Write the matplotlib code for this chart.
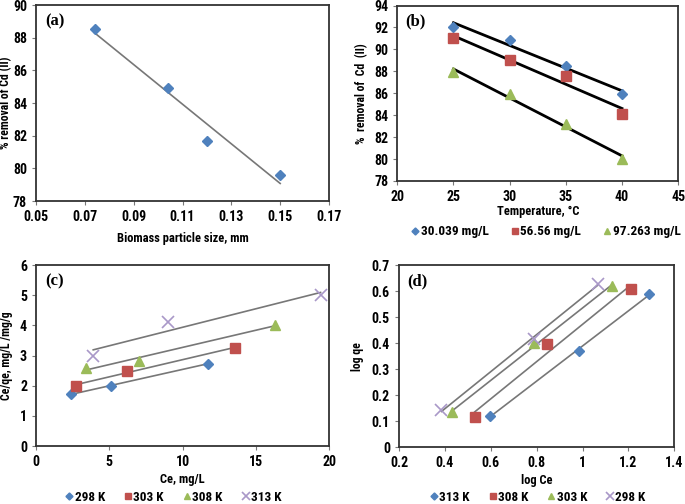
import numpy as np
import matplotlib
matplotlib.use("Agg")
import matplotlib.pyplot as plt
from matplotlib.ticker import FuncFormatter

plt.rcParams['font.family'] = ['Liberation Sans Narrow', 'Roboto Condensed',
                               'DejaVu Sans Condensed', 'Liberation Sans', 'DejaVu Sans']
plt.rcParams['font.weight'] = 'bold'

# (a) particle size
size_a = [0.074, 0.104, 0.12, 0.15]
rem_a = [88.55, 84.9, 81.7, 79.6]

# (b) temperature
temp_b = [25, 30, 35, 40]
conc_b = ['30.039 mg/L', '56.56 mg/L', '97.263 mg/L']
rem_b = [[92.0, 90.9, 88.5, 85.9],
         [91.0, 89.0, 87.6, 84.1],
         [87.9, 85.9, 83.2, 80.0]]

# (c) Langmuir
lab_c = ['298 K', '303 K', '308 K', '313 K']
ce_c = [[2.4, 5.1, 11.7],
        [2.7, 6.2, 13.6],
        [3.4, 7.0, 16.3],
        [3.9, 9.0, 19.4]]
ceqe_c = [[1.72, 2.0, 2.73],
          [2.0, 2.48, 3.26],
          [2.6, 2.82, 4.02],
          [3.0, 4.1, 5.0]]

# (d) Freundlich
lab_d = ['313 K', '308 K', '303 K', '298 K']
logce_d = [[0.595, 0.985, 1.29],
           [0.53, 0.845, 1.21],
           [0.432, 0.79, 1.13],
           [0.385, 0.79, 1.065]]
logqe_d = [[0.12, 0.37, 0.59],
           [0.118, 0.395, 0.607],
           [0.135, 0.40, 0.62],
           [0.142, 0.415, 0.628]]

colors = ['#4F81BD', '#C0504D', '#9BBB59', '#A998C8']
markers = ['D', 's', '^', 'x']
msizes = [5.5, 7, 6.5, 8]

fig = plt.figure(figsize=(6.85, 5.04), dpi=100)
ax_a = fig.add_axes([0.0526, 0.601, 0.4277, 0.389])
ax_b = fig.add_axes([0.580, 0.641, 0.410, 0.348])
ax_c = fig.add_axes([0.0526, 0.115, 0.4282, 0.359])
ax_d = fig.add_axes([0.5825, 0.1125, 0.402, 0.3617])

fmt = FuncFormatter(lambda v, p: '%g' % round(v, 3))


def style(ax, label, ylab_x):
    for s in ax.spines.values():
        s.set_color('#333333')
        s.set_linewidth(1.3)
    ax.tick_params(direction='out', length=3, width=0.8, color='#777777',
                   labelsize=10, pad=3.5)
    for t in ax.get_xticklabels() + ax.get_yticklabels():
        t.set_fontweight('bold')
    ax.xaxis.set_major_formatter(fmt)
    ax.yaxis.set_major_formatter(fmt)
    ax.yaxis.set_label_coords(ylab_x, 0.5)
    ax.text(0.03, 0.955, label, transform=ax.transAxes, ha='left', va='top',
            fontsize=12, fontweight='bold', family='Liberation Serif')


def trend(ax, x, y, color, lw):
    k, b = np.polyfit(x, y, 1)
    xs = np.array([min(x), max(x)])
    ax.plot(xs, k * xs + b, color=color, lw=lw, zorder=2)


leg_kw = dict(loc='center', bbox_transform=fig.transFigure, frameon=False,
              markerscale=0.65, handlelength=0.6, handletextpad=0.1,
              prop={'size': 9.5, 'weight': 'bold'}, borderaxespad=0, borderpad=0)

# (a)
trend(ax_a, size_a, rem_a, '#777777', 1.2)
ax_a.plot(size_a, rem_a, ls='none', marker='D', ms=5.5, color=colors[0], zorder=3)
ax_a.set_xlim(0.05, 0.17)
ax_a.set_xticks(np.arange(0.05, 0.171, 0.02))
ax_a.set_ylim(78, 90)
ax_a.set_yticks(np.arange(78, 91, 2))
ax_a.set_xlabel('Biomass particle size, mm', fontsize=9, fontweight='bold', labelpad=6)
ax_a.set_ylabel('% removal of Cd (II)', fontsize=8.5, fontweight='bold')
style(ax_a, '(a)', -0.08)

# (b)
for i in range(3):
    trend(ax_b, temp_b, rem_b[i], 'black', 2)
    ax_b.plot(temp_b, rem_b[i], ls='none', marker=markers[i], ms=msizes[i],
              color=colors[i], zorder=3, label=conc_b[i])
ax_b.set_xlim(20, 45)
ax_b.set_xticks(range(20, 46, 5))
ax_b.set_ylim(78, 94)
ax_b.set_yticks(range(78, 95, 2))
ax_b.set_xlabel('Temperature, \u00b0C', fontsize=9, fontweight='bold', labelpad=1)
ax_b.set_ylabel('%  removal of  Cd  (II)', fontsize=8.5, fontweight='bold')
style(ax_b, '(b)', -0.104)
ax_b.legend(bbox_to_anchor=(0.797, 0.540), ncol=3, columnspacing=1.7, **leg_kw)

# (c)
for i in range(4):
    trend(ax_c, ce_c[i], ceqe_c[i], '#777777', 1.2)
    ax_c.plot(ce_c[i], ceqe_c[i], ls='none', marker=markers[i], ms=msizes[i],
              mew=1.2 if markers[i] == 'x' else 1, color=colors[i], zorder=3,
              label=lab_c[i])
ax_c.set_xlim(0, 20)
ax_c.set_xticks(range(0, 21, 5))
ax_c.set_ylim(0, 6)
ax_c.set_yticks(range(0, 7))
ax_c.set_xlabel('Ce, mg/L', fontsize=9, fontweight='bold', labelpad=3)
ax_c.set_ylabel('Ce/qe, mg/L /mg/g', fontsize=8.5, fontweight='bold')
style(ax_c, '(c)', -0.08)
ax_c.legend(bbox_to_anchor=(0.253, 0.013), ncol=4, columnspacing=1.45, **leg_kw)

# (d)
for i in range(4):
    trend(ax_d, logce_d[i], logqe_d[i], '#777777', 1.2)
    ax_d.plot(logce_d[i], logqe_d[i], ls='none', marker=markers[i], ms=msizes[i],
              mew=1.2 if markers[i] == 'x' else 1, color=colors[i], zorder=3,
              label=lab_d[i])
ax_d.set_xlim(0.2, 1.4)
ax_d.set_xticks(np.arange(0.2, 1.41, 0.2))
ax_d.set_ylim(0, 0.7)
ax_d.set_yticks(np.arange(0, 0.71, 0.1))
ax_d.set_xlabel('log Ce', fontsize=9, fontweight='bold', labelpad=3)
ax_d.set_ylabel('log qe', fontsize=8.5, fontweight='bold')
style(ax_d, '(d)', -0.127)
ax_d.legend(bbox_to_anchor=(0.785, 0.013), ncol=4, columnspacing=1.45, **leg_kw)

fig.savefig('out.png', dpi=100)
